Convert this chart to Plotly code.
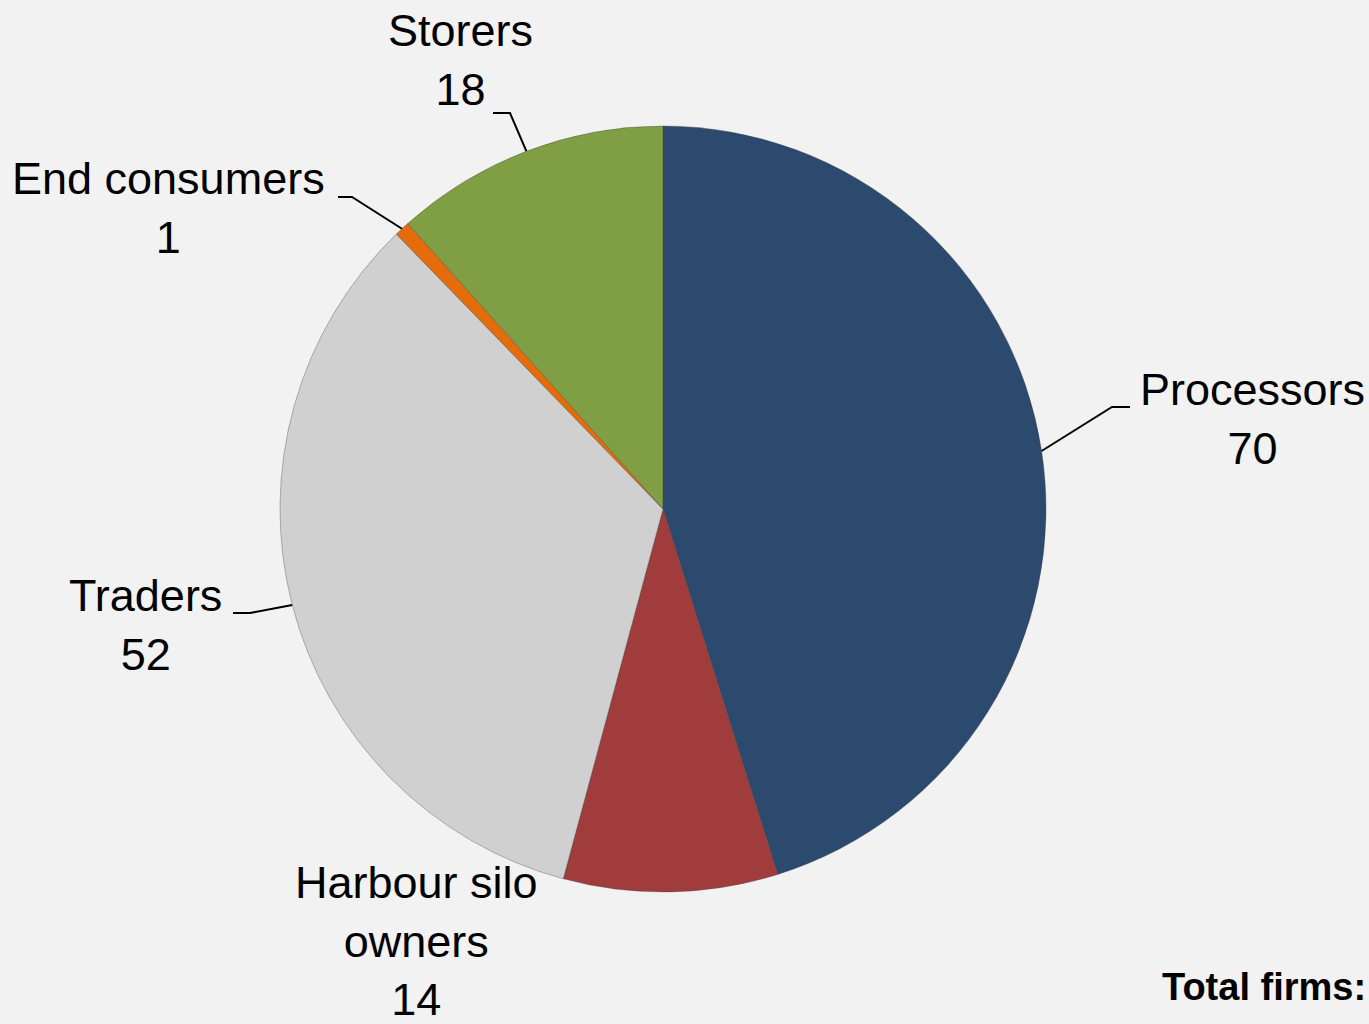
import math
import plotly.graph_objects as go

# ---- data ----
categories = ["Processors", "Harbour silo owners", "Traders", "End consumers", "Storers"]
firms = [70, 14, 52, 1, 18]
label_lines = [["Processors"], ["Harbour silo", "owners"], ["Traders"], ["End consumers"], ["Storers"]]
colors = ["#2c4a6e", "#a03d3c", "#d0d0d0", "#e46c0a", "#809f45"]

# ---- layout constants (pixels) ----
W, H = 1369, 1024
cx, cy, R = 663, 509, 383
FONT = "Liberation Sans, Arial, sans-serif"

# label centres and leader-line bends (None = no leader)
label_pos = [(1252, 419), (416, 941), (145, 625), (168, 208), (460, 60)]
leader_bends = [
    [(1112, 407), (1130, 407)],
    None,
    [(250, 613), (233, 613)],
    [(352, 197), (338, 197)],
    [(510, 113), (493, 113)],
]


def px(x, y):
    return x / W, 1 - y / H


fig = go.Figure()
fig.add_trace(go.Pie(
    labels=categories,
    values=firms,
    sort=False,
    direction="clockwise",
    rotation=0,
    textinfo="none",
    hoverinfo="label+value",
    marker=dict(colors=colors, line=dict(color="rgba(60,60,60,0.35)", width=1)),
    domain=dict(x=[(cx - R) / W, (cx + R) / W], y=[1 - (cy + R) / H, 1 - (cy - R) / H]),
    showlegend=False,
))

total = sum(firms)
cum = 0
annotations = []
shapes = []
for i, v in enumerate(firms):
    mid = (cum + v / 2) / total * 2 * math.pi
    cum += v
    ex = cx + R * math.sin(mid)
    ey = cy - R * math.cos(mid)
    lx, ly = label_pos[i]
    text = "<br>".join(label_lines[i] + [str(v)])
    ax, ay = px(lx, ly)
    annotations.append(dict(
        x=ax, y=ay, xref="paper", yref="paper", text=text, showarrow=False,
        xanchor="center", yanchor="middle", align="center",
        font=dict(family=FONT, size=45, color="#000000"),
    ))
    if leader_bends[i]:
        pts = [(ex, ey)] + leader_bends[i]
        path = "M " + " L ".join(f"{px(x, y)[0]:.5f},{px(x, y)[1]:.5f}" for x, y in pts)
        shapes.append(dict(type="path", xref="paper", yref="paper", path=path,
                           line=dict(color="#000000", width=2)))

tx, ty = px(1160, 987)
annotations.append(dict(
    x=tx, y=ty, xref="paper", yref="paper", text="<b>Total firms:</b>", showarrow=False,
    xanchor="left", yanchor="middle",
    font=dict(family=FONT, size=38, color="#000000"),
))

fig.update_layout(
    width=W, height=H,
    margin=dict(l=0, r=0, t=0, b=0),
    paper_bgcolor="#f2f2f2",
    plot_bgcolor="#f2f2f2",
    annotations=annotations,
    shapes=shapes,
)

fig.write_html(
    "out.html",
    config={"displayModeBar": False},
    post_script="document.body.style.margin='0';document.body.style.overflow='hidden';",
)
